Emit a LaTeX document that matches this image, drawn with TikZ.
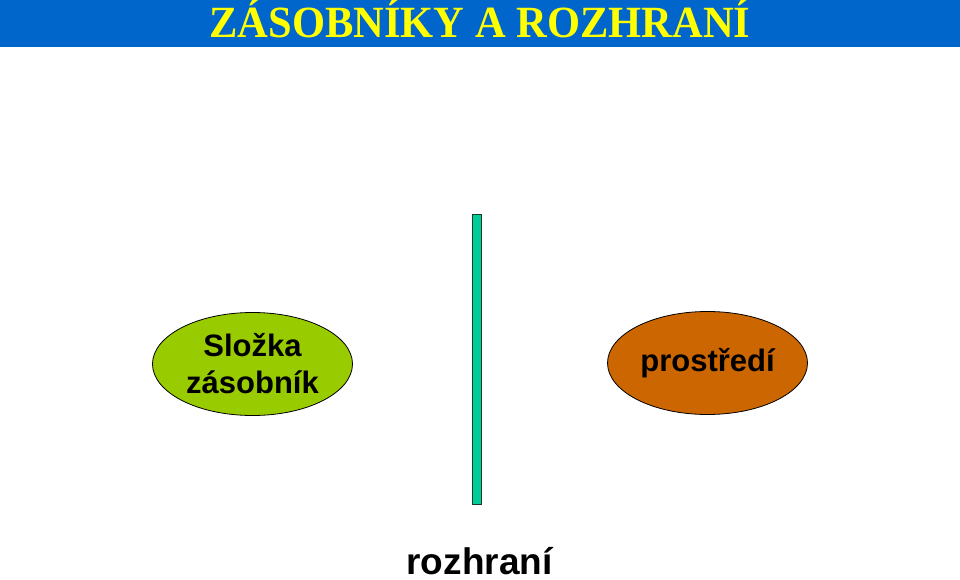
\documentclass[tikz,border=0pt]{standalone}
\usepackage{fontspec}
\setmainfont{Liberation Serif}
\setsansfont{Liberation Sans}
\usetikzlibrary{shapes.geometric}

\definecolor{titleblue}{RGB}{0,102,204}
\definecolor{titleyellow}{RGB}{255,255,0}
\definecolor{slozkagreen}{RGB}{153,204,0}
\definecolor{prostrorange}{RGB}{204,102,0}
\definecolor{barteal}{RGB}{0,204,153}
\definecolor{bardark}{RGB}{20,60,40}

\tikzset{
    blob/.style={ellipse, draw=black, line width=0.8pt, minimum width=200pt,
        minimum height=103pt, inner sep=0pt, align=center,
        font=\sffamily\bfseries\fontsize{31}{37}\selectfont},
    interface/.style={rectangle, draw=bardark, fill=barteal, line width=1pt,
        minimum width=9pt, minimum height=289pt, inner sep=0pt}
}

\begin{document}
\begin{tikzpicture}[x=1pt, y=1pt]
    \useasboundingbox (0,0) rectangle (960,579);
    % title bar
    \fill[titleblue] (0,532) rectangle (960,579);
    \node[anchor=base, text=titleyellow, yscale=1.05, font=\rmfamily\bfseries\fontsize{42.5}{42.5}\selectfont]
        (title) at (480,541) {ZÁSOBNÍKY A ROZHRANÍ};
    % zasobnik, rozhrani, prostredi
    \node[blob, fill=slozkagreen] (slozka) at (252.5,215) {Složka\\zásobník};
    \node[interface] (rozhrani) at (476.5,219.5) {};
    \node[blob, fill=prostrorange] (prostredi) at (707.5,216) {prostředí};
    \node[anchor=base, font=\sffamily\bfseries\fontsize{37}{37}\selectfont]
        (rozhranilabel) at (479.5,5) {rozhraní};
\end{tikzpicture}
\end{document}
